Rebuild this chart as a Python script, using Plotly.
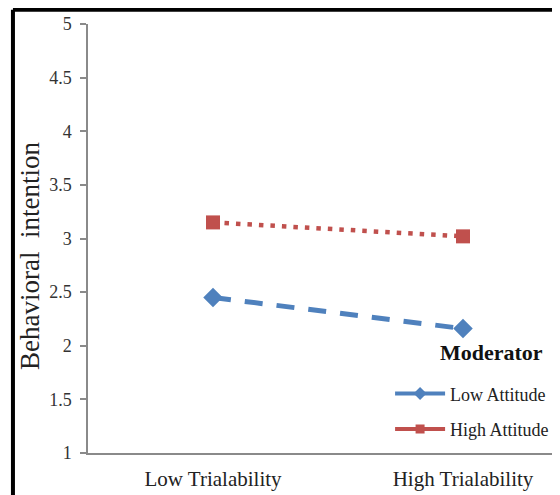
import plotly.graph_objects as go

categories = ["Low Trialability", "High Trialability"]
low_attitude = [2.45, 2.16]
high_attitude = [3.15, 3.02]
y_ticks = [1, 1.5, 2, 2.5, 3, 3.5, 4, 4.5, 5]

BLUE = "#4F81BD"
RED = "#C0504D"
FONT = "Liberation Serif"
xpos = list(range(len(categories)))

fig = go.Figure()
fig.add_trace(go.Scatter(x=xpos, y=low_attitude, mode="lines+markers", showlegend=False,
                         line=dict(color=BLUE, width=5, dash="18px,14px"),
                         marker=dict(symbol="diamond", size=15, color=BLUE)))
fig.add_trace(go.Scatter(x=xpos, y=high_attitude, mode="lines+markers", showlegend=False,
                         line=dict(color=RED, width=4.5, dash="4.5px,7px"),
                         marker=dict(symbol="square", size=14, color=RED)))
# legend entries (solid samples as in reference)
fig.add_trace(go.Scatter(x=[None], y=[None], mode="lines+markers", name="Low Attitude",
                         legendgroup="a",
                         line=dict(color=BLUE, width=4), marker=dict(symbol="diamond", size=10, color=BLUE)))
fig.add_trace(go.Scatter(x=[None], y=[None], mode="lines+markers", name="High Attitude",
                         legendgroup="b",
                         line=dict(color=RED, width=4), marker=dict(symbol="square", size=9, color=RED)))

# page body has an 8px margin: figure is shifted by (8, 8) in the window
fig.update_layout(
    width=552, height=487,
    margin=dict(l=80, r=0, t=16, b=42),
    paper_bgcolor="white", plot_bgcolor="white",
    font=dict(family=FONT, color="#222"),
    xaxis=dict(range=[-0.5, 1.388], tickvals=xpos, ticktext=categories,
               showgrid=False, zeroline=False, showline=True, linecolor="#8a8a8a", linewidth=1.5,
               ticks="", ticklabelstandoff=6,
               tickfont=dict(size=21, family=FONT, color="#222"), fixedrange=True),
    yaxis=dict(range=[1, 5], tickvals=y_ticks, ticktext=[f"{v:g}" for v in y_ticks],
               showgrid=False, zeroline=False, showline=True, linecolor="#8a8a8a", linewidth=1.5,
               ticks="outside", ticklen=6, tickcolor="#8a8a8a", tickwidth=1.5, ticklabelstandoff=5,
               tickfont=dict(size=18, family=FONT, color="#333")),
    legend=dict(x=0.64, y=0.181, xanchor="left", yanchor="top",
                font=dict(size=18, family=FONT, color="#222"), bgcolor="rgba(0,0,0,0)",
                itemwidth=50, tracegroupgap=9, traceorder="grouped"),
    showlegend=True,
)
fig.add_annotation(text="Behavioral  intention", xref="paper", yref="paper", x=-0.123, y=0.459,
                   xanchor="center", yanchor="middle", textangle=-90, showarrow=False,
                   font=dict(size=27, family=FONT, color="#222"))
fig.add_annotation(text="<b>Moderator</b>", xref="paper", yref="paper", x=0.854, y=0.235,
                   xanchor="center", yanchor="middle", showarrow=False,
                   font=dict(size=22, family=FONT, color="#111"))
# black frame (left & top)
fig.add_shape(type="line", xref="paper", yref="paper", x0=-0.159, x1=1.05, y0=1.033, y1=1.033,
              line=dict(color="black", width=4))
fig.add_shape(type="line", xref="paper", yref="paper", x0=-0.159, x1=-0.159, y0=1.033, y1=-0.2,
              line=dict(color="black", width=4))

fig.write_html("out.html")
